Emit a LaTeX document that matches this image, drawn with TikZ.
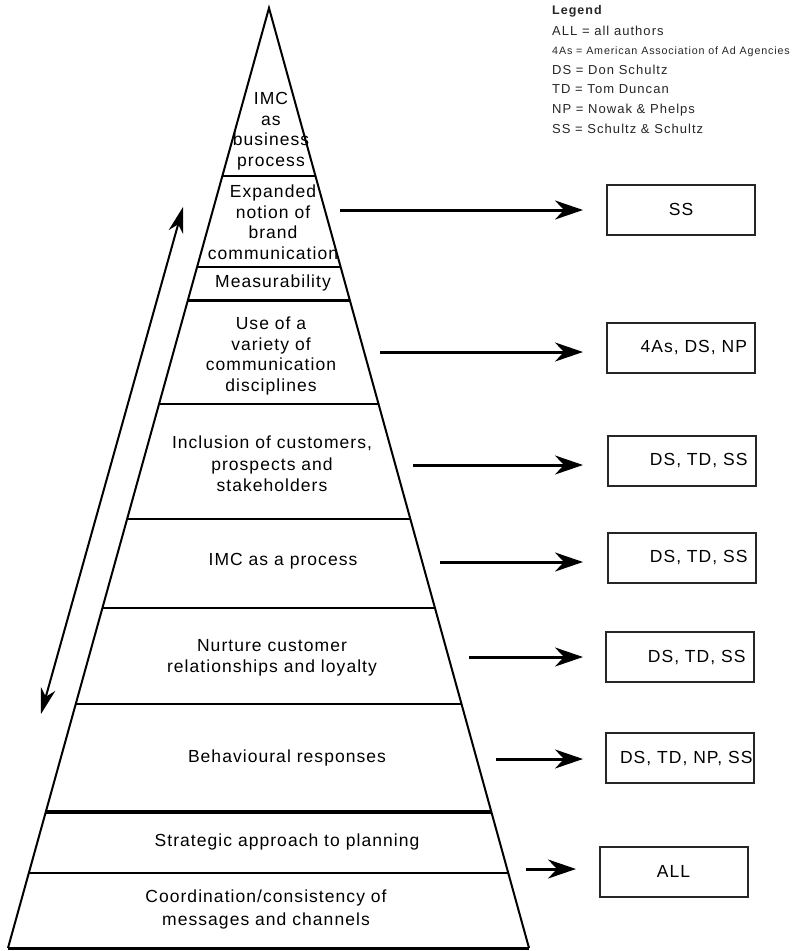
\documentclass[tikz,border=0pt]{standalone}
\usepackage{fontspec}
\setmainfont{Liberation Sans}
\newfontfamily\trackfont[LetterSpace=6]{Liberation Sans}
\newfontfamily\legfont[LetterSpace=8]{Liberation Sans}
\usetikzlibrary{arrows.meta,calc}
\begin{document}
\begin{tikzpicture}[x=1pt,y=-1pt,
  edge/.style={line width=2pt, line join=miter},
  lvl/.style={font=\trackfont\fontsize{17.5}{20.5}\selectfont, align=center, inner sep=0pt},
  bigarrow/.style={line width=3pt, -{Stealth[length=28pt,width=19pt,inset=9pt]}},
  sidearrow/.style={line width=2pt, {Stealth[length=26pt,width=15pt,inset=8pt]}-{Stealth[length=26pt,width=15pt,inset=8pt]}},
  authbox/.style={draw=black!85, line width=2pt, minimum width=148pt, minimum height=50pt,
    inner xsep=8pt, inner ysep=0pt, font=\trackfont\fontsize{17.5}{20}\selectfont},
  legline/.style={anchor=base west, inner sep=0pt, text=black!85, font=\legfont\fontsize{13}{15}\selectfont}
]
\useasboundingbox (0,0) rectangle (799,951);
\fill[white] (0,0) rectangle (799,951);

% pyramid outline
\coordinate (apex) at (269,8);
\coordinate (bl) at (8,948);
\coordinate (br) at (529,948);
\draw[edge] (bl) -- (apex) -- (br);
\draw[line width=3pt] (bl) -- (br);

% dividers
\foreach \yy/\w in {176/2, 267/2, 301/3, 404/2.6, 519/2.6, 608/2.6, 704/2.6, 812/3.2, 873/1.6}{
  \draw[line width=\w pt] ($(apex)!{(\yy-8)/940}!(bl)$) -- ($(apex)!{(\yy-8)/940}!(br)$);
}

% level texts
\node[lvl] (t1) at (271,131) {IMC\\as\\business\\process};
\node[lvl] (t2) at (273,222) {Expanded\\notion of\\brand\\communication};
\node[lvl] (t3) at (273,283) {Measurability};
\node[lvl] (t4) at (271,356) {Use of a\\variety of\\communication\\disciplines};
\node[lvl, font=\trackfont\fontsize{17.5}{21.5}\selectfont] (t5) at (272,464) {Inclusion of customers,\\prospects and\\stakeholders};
\node[lvl] (t6) at (283,561) {IMC as a process};
\node[lvl] (t7) at (272,658) {Nurture customer\\relationships and loyalty};
\node[lvl] (t8) at (287,758) {Behavioural responses};
\node[lvl] (t9) at (287,842) {Strategic approach to planning};
\node[lvl, font=\trackfont\fontsize{17.5}{23}\selectfont] (t10) at (266,909) {Coordination/consistency of\\messages and channels};

% side double arrow
\coordinate (sdown) at (41,714);
\coordinate (sup) at (183,207);
\draw[sidearrow] (sdown) -- (sup);

% author boxes
\node[authbox, align=center] (b1) at (681,209.5) {SS};
\node[authbox, text width=132pt, align=right] (b2) at (681,348) {4As, DS, NP};
\node[authbox, text width=132pt, align=right] (b3) at (681.5,461) {DS, TD, SS};
\node[authbox, text width=132pt, align=right] (b4) at (681.5,558) {DS, TD, SS};
\node[authbox, text width=132pt, align=right] (b5) at (679.5,657) {DS, TD, SS};
\node[authbox, inner xsep=1pt, text width=146pt, align=right] (b6) at (679.5,758) {DS, TD, NP, SS};
\node[authbox, align=center] (b7) at (673.5,871.5) {ALL};

% arrows
\coordinate (s1) at (340,210);  \coordinate (e1) at (583,210);
\coordinate (s2) at (380,352);  \coordinate (e2) at (583,352);
\coordinate (s3) at (413,465);  \coordinate (e3) at (583,465);
\coordinate (s4) at (440,562);  \coordinate (e4) at (583,562);
\coordinate (s5) at (469,657);  \coordinate (e5) at (583,657);
\coordinate (s6) at (496,759);  \coordinate (e6) at (583,759);
\coordinate (s7) at (526,869);  \coordinate (e7) at (576,869);
\foreach \i in {1,...,7}{ \draw[bigarrow] (s\i) -- (e\i); }

% legend
\node[legline, font=\legfont\bfseries\fontsize{12.5}{14}\selectfont] (lg0) at (552,14.5) {Legend};
\node[legline] (lg1) at (552,35.5) {ALL = all authors};
\node[legline, font=\legfont\fontsize{10.7}{12}\selectfont] (lg2) at (552,54) {4As = American Association of Ad Agencies};
\node[legline] (lg3) at (552,74.5) {DS = Don Schultz};
\node[legline] (lg4) at (552,93.5) {TD = Tom Duncan};
\node[legline] (lg5) at (552,113.5) {NP = Nowak \& Phelps};
\node[legline] (lg6) at (552,133.5) {SS = Schultz \& Schultz};
\end{tikzpicture}
\end{document}
